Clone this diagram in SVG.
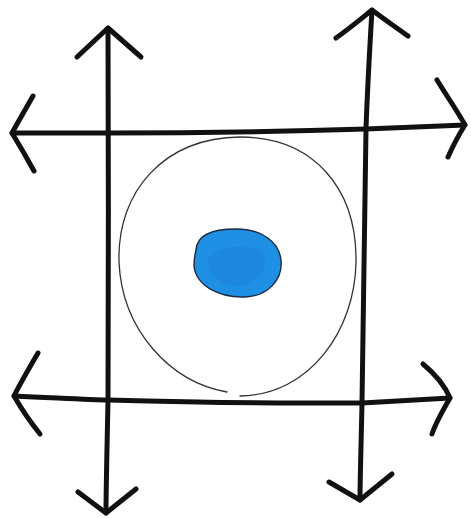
<svg xmlns="http://www.w3.org/2000/svg" width="471" height="518" viewBox="0 0 471 518">
<style>
.ink{fill:none;stroke:#111;stroke-width:5;stroke-linecap:round;stroke-linejoin:round}
.thin{fill:none;stroke:#333;stroke-width:1.3;stroke-linecap:round}
</style>
<rect width="471" height="518" fill="#fff"/>
<g id="arrows">
<g id="left-vertical">
<path class="ink" d="M108,28 C109,130 108,300 108,400 C107,450 106,490 106,513"/>
<path class="ink" d="M77,57 L108,28 L141,57"/>
<path class="ink" d="M78,492 L106,513 L136,489"/>
</g>
<g id="right-vertical">
<path class="ink" d="M372,10 C369,60 367,100 366,129 C364,250 362,350 362,403 C361,450 360,480 360,500"/>
<path class="ink" d="M336,38 C350,28 362,18 372,10 C385,20 397,28 408,36"/>
<path class="ink" d="M329,482 L360,500 L392,474"/>
</g>
<g id="top-horizontal">
<path class="ink" d="M12,133 C60,133 90,133 108,133 C180,133 300,131 366,129 C410,127 440,126 465,125"/>
<path class="ink" d="M33,96 C25,110 18,122 12,133 C20,146 28,160 34,171"/>
<path class="ink" d="M437,80 C448,98 458,112 465,125 C458,136 452,148 448,157"/>
</g>
<g id="bottom-horizontal">
<path class="ink" d="M14,396 C60,398 90,400 108,400 C180,402 240,403 300,403 C340,403 362,403 362,403 C400,401 430,399 450,398"/>
<path class="ink" d="M38,353 C28,370 20,384 14,396 C22,410 32,424 40,434"/>
<path class="ink" d="M423,364 C435,374 445,386 450,398 C443,410 436,422 432,434"/>
</g>
</g>
<g id="oval">
<path class="thin" d="M227,392 C170,382 122,330 119,262 C117,190 165,138 240,137 C315,137 357,190 356,262 C355,330 310,395 240,396"/>
</g>
<g id="blob">
<path d="M196,250 C197,234 215,229 236,229 C262,229 279,242 281,260 C283,280 268,296 245,297 C220,298 196,286 194,266 C194,260 195,254 196,250 Z" fill="#1f8fe3" stroke="#1b2a44" stroke-width="1.4"/>
<path d="M208,258 C220,246 240,244 262,250 C270,262 262,282 240,286 C222,286 208,276 208,258 Z" fill="#1a82d8" opacity="0.6"/>
</g>
</svg>
